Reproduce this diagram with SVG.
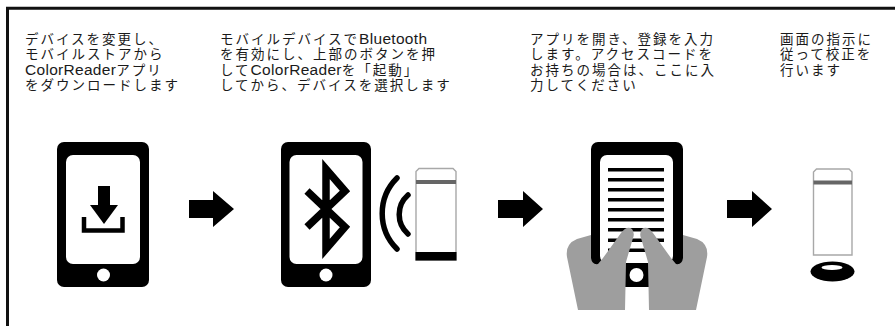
<svg xmlns="http://www.w3.org/2000/svg" width="895" height="326" viewBox="0 0 895 326">
  <style>
    .cap { font-family: "Liberation Sans", "Noto Sans CJK JP", sans-serif; font-size: 13.5px; letter-spacing: 2px; fill: #1a1a1a; }
    .lat { font-size: 15.5px; letter-spacing: 0.3px; }
    .ink { fill: #000; }
    .screen { fill: #fff; }
    .arrow { fill: #000; }
    .reader { fill: #fff; stroke: #a8a8a8; stroke-width: 1.4; }
    .band { fill: #666; }
    .hand { fill: #9e9e9e; }
    .wave { fill: none; stroke: #000; stroke-width: 5.5; stroke-linecap: round; }
  </style>

  <!-- outer frame: left and top rules only -->
  <path d="M7.5,326 V8.3 H895" fill="none" stroke="#111" stroke-width="3"/>

  <!-- step captions -->
  <g id="caption-1">
    <text class="cap" x="25" y="44">デバイスを変更し、</text>
    <text class="cap" x="25" y="59.3">モバイルストアから</text>
    <text class="cap" x="25" y="74.6"><tspan class="lat">ColorReader</tspan>アプリ</text>
    <text class="cap" x="25" y="90">をダウンロードします</text>
  </g>
  <g id="caption-2">
    <text class="cap" x="220" y="44">モバイルデバイスで<tspan class="lat">Bluetooth</tspan></text>
    <text class="cap" x="220" y="59.3">を有効にし、上部のボタンを押</text>
    <text class="cap" x="220" y="74.6">して<tspan class="lat">ColorReader</tspan>を「起動」</text>
    <text class="cap" x="220" y="90">してから、デバイスを選択します</text>
  </g>
  <g id="caption-3">
    <text class="cap" x="530" y="44">アプリを開き、登録を入力</text>
    <text class="cap" x="530" y="59.3">します。アクセスコードを</text>
    <text class="cap" x="530" y="74.6">お持ちの場合は、ここに入</text>
    <text class="cap" x="530" y="90">力してください</text>
  </g>
  <g id="caption-4">
    <text class="cap" x="780" y="44">画面の指示に</text>
    <text class="cap" x="780" y="59.3">従って校正を</text>
    <text class="cap" x="780" y="74.6">行います</text>
  </g>

  <!-- step 1: phone with download icon -->
  <g id="phone-download">
    <rect class="ink" x="57" y="142" width="92" height="145" rx="7"/>
    <rect class="screen" x="66" y="155" width="74" height="109" rx="7"/>
    <circle class="screen" cx="103.5" cy="275" r="6.5"/>
    <rect class="ink" x="98" y="186" width="12" height="20"/>
    <polygon class="ink" points="90,205 118,205 104,224"/>
    <polyline points="84,217 84,230.5 122.5,230.5 122.5,217" fill="none" stroke="#000" stroke-width="4.5"/>
  </g>

  <!-- step 2: phone with Bluetooth, signal and reader -->
  <g id="phone-bluetooth">
    <rect class="ink" x="281" y="142" width="90" height="145" rx="7"/>
    <rect class="screen" x="289.5" y="155" width="73" height="109" rx="7"/>
    <circle class="screen" cx="326" cy="275" r="6.5"/>
    <path d="M307,191 L345,227 L326,249 L326,169 L345,191 L307,227" fill="none" stroke="#000" stroke-width="7.5" stroke-linejoin="miter"/>
    <path class="wave" d="M397,178 A50,50 0 0 0 397,249"/>
    <path class="wave" d="M408,195 A26,26 0 0 0 408,234"/>
  </g>
  <g id="reader-1">
    <path class="reader" d="M416,260 V171.5 L419,168.5 H453 L456,171.5 V260 Z"/>
    <rect class="band" x="416" y="180" width="40" height="4"/>
    <rect class="ink" x="415.5" y="252" width="41" height="8.5"/>
  </g>

  <!-- step 3: tablet held in two hands -->
  <g id="tablet-hands">
    <rect class="ink" x="591" y="142" width="92" height="145" rx="7"/>
    <rect class="screen" x="600" y="155" width="73" height="108" rx="7"/>
    <g class="ink">
      <rect x="608" y="168" width="56" height="3.5"/>
      <rect x="608" y="178" width="56" height="3.5"/>
      <rect x="608" y="188" width="56" height="3.5"/>
      <rect x="608" y="198" width="56" height="3.5"/>
      <rect x="608" y="208" width="56" height="3.5"/>
      <rect x="608" y="218" width="56" height="3.5"/>
      <rect x="608" y="228" width="56" height="3.5"/>
      <rect x="608" y="238.5" width="56" height="3.5"/>
      <rect x="608" y="248.5" width="56" height="3.5"/>
    </g>
    <circle class="screen" cx="636.5" cy="275" r="7"/>
    <path class="hand" d="M578,310 L567,257 Q565,244 577,239 L591,235 L591,258 Q592,265 598,264 L603,258 L621,233 Q627,225 632,229 Q635,233 633,238 L626,262 L625,310 Z"/>
    <path class="hand" d="M578,310 L567,257 Q565,244 577,239 L591,235 L591,258 Q592,265 598,264 L603,258 L621,233 Q627,225 632,229 Q635,233 633,238 L626,262 L625,310 Z" transform="matrix(-1 0 0 1 1274 0)"/>
  </g>

  <!-- step 4: reader with calibration cap -->
  <g id="reader-2">
    <path class="reader" d="M813.5,255 V172 L816.5,169 H849 L852,172 V255 Z"/>
    <rect class="band" x="813.5" y="180.5" width="38.5" height="4"/>
    <ellipse class="ink" cx="832.5" cy="271.5" rx="22" ry="10"/>
    <ellipse cx="832" cy="267.5" rx="10.5" ry="2.5" fill="#fff"/>
  </g>

  <!-- flow arrows -->
  <g id="connectors">
    <path class="arrow" d="M189,200 H213 V191 L234,209 L213,227 V218 H189 Z"/>
    <path class="arrow" d="M498,200 H523 V191 L543,209 L523,227 V218 H498 Z"/>
    <path class="arrow" d="M727,200 H752 V191 L772,209 L752,227 V218 H727 Z"/>
  </g>
</svg>
